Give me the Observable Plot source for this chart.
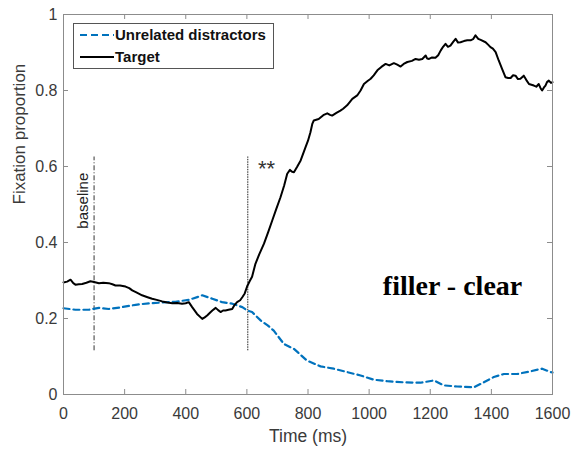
<!DOCTYPE html>
<html>
<head>
<meta charset="utf-8">
<script src="https://cdn.jsdelivr.net/npm/d3@7"></script>
<script src="https://cdn.jsdelivr.net/npm/@observablehq/plot@0.6"></script>
<style>
  html, body { margin: 0; padding: 0; background: #fff; }
  #chart { width: 573px; height: 450px; }
</style>
</head>
<body>
<div id="chart"></div>
<script>
// ---- data ----
const targetTime = [0,12,23,32,39,50,61,75,88,100,116,130,148,160,170,185,203,215,225,240,257,275,290,305,323,340,356,372,388,400,410,421,437,454,462,470,480,487,498,506,514,522,530,540,552,560,568,578,585,593,601,609,617,628,640,656,670,683,696,710,722,732,741,748,754,765,776,792,800,808,814,819,835,850,863,872,879,893,906,915,928,945,961,972,983,995,1005,1015,1027,1040,1054,1066,1081,1092,1103,1113,1125,1140,1152,1163,1174,1185,1190,1196,1206,1217,1226,1234,1242,1250,1258,1266,1275,1283,1291,1299,1310,1321,1332,1340,1348,1357,1365,1381,1390,1397,1405,1414,1424,1435,1446,1455,1463,1471,1479,1487,1495,1506,1514,1523,1531,1539,1547,1555,1561,1566,1572,1577,1582,1588,1595,1600];
const targetValue = [0.295,0.297,0.302,0.293,0.289,0.290,0.291,0.294,0.298,0.296,0.293,0.294,0.293,0.290,0.287,0.287,0.284,0.280,0.274,0.268,0.261,0.256,0.252,0.249,0.245,0.242,0.240,0.241,0.239,0.240,0.243,0.230,0.212,0.199,0.203,0.208,0.216,0.221,0.228,0.222,0.217,0.221,0.221,0.223,0.225,0.236,0.243,0.248,0.256,0.266,0.285,0.298,0.310,0.344,0.368,0.397,0.428,0.458,0.488,0.519,0.550,0.581,0.591,0.586,0.585,0.600,0.616,0.651,0.668,0.690,0.712,0.721,0.725,0.735,0.740,0.736,0.734,0.741,0.747,0.752,0.761,0.778,0.787,0.800,0.817,0.825,0.831,0.840,0.853,0.862,0.870,0.866,0.872,0.868,0.863,0.870,0.875,0.878,0.883,0.881,0.883,0.892,0.884,0.883,0.887,0.886,0.893,0.905,0.915,0.923,0.915,0.918,0.928,0.936,0.926,0.927,0.930,0.932,0.932,0.935,0.945,0.936,0.933,0.927,0.920,0.914,0.910,0.901,0.879,0.857,0.835,0.833,0.833,0.840,0.839,0.830,0.831,0.839,0.828,0.817,0.815,0.813,0.810,0.817,0.806,0.800,0.808,0.813,0.822,0.826,0.820,0.822];

const distractorTime = [0,39,83,116,148,192,236,279,323,366,410,440,454,487,519,552,585,601,617,645,668,688,721,754,775,797,841,884,928,972,1015,1059,1114,1168,1212,1244,1288,1343,1375,1408,1441,1485,1528,1566,1594,1600];
const distractorValue = [0.227,0.223,0.223,0.228,0.225,0.230,0.236,0.240,0.242,0.244,0.249,0.257,0.261,0.252,0.243,0.239,0.230,0.221,0.217,0.195,0.182,0.168,0.133,0.120,0.105,0.089,0.074,0.068,0.059,0.050,0.039,0.035,0.032,0.031,0.037,0.024,0.021,0.019,0.032,0.046,0.054,0.054,0.061,0.068,0.059,0.058];

const seriesNames = ["Unrelated distractors", "Target"];
const seriesColors = ["#0072BD", "#000000"];

const xTicks = [0,200,400,600,800,1000,1200,1400,1600];
const xTickLabels = ["0","200","400","600","800","1000","1200","1400","1600"];
const yTicks = [0,0.2,0.4,0.6,0.8,1];
const yTickLabels = ["0","0.2","0.4","0.6","0.8","1"];

const markerTimes = [100, 603];
const markerLow = 0.115;
const markerHigh = 0.625;

const xLabel = "Time (ms)";
const yLabel = "Fixation proportion";
const baselineNote = {t: 65, v: 0.51, text: "baseline"};
const starNote = {t: 636, v: 0.574, text: "**"};
const conditionNote = {t: 1273, v: 0.263, text: "filler - clear"};

// ---- build tables ----
const target = targetTime.map((t, i) => ({t, v: targetValue[i]}));
const distractor = distractorTime.map((t, i) => ({t, v: distractorValue[i]}));

const W = 573, H = 450, mL = 63, mR = 21, mT = 14, mB = 56;
const innerW = W - mL - mR, innerH = H - mT - mB;
const tickLen = 5;
const axisGrey = "#8c8c8c";
const textGrey = "#3a3a3a";
const sans = "'Liberation Sans', Arial, sans-serif";

const chart = Plot.plot({
  width: W, height: H,
  marginLeft: mL, marginRight: mR, marginTop: mT, marginBottom: mB,
  style: {fontFamily: sans, background: "#fff", overflow: "visible"},
  x: {domain: [0, 1600], label: null},
  y: {domain: [0, 1], label: null},
  marks: [
    // inward ticks on all four sides
    Plot.ruleX(xTicks, {x: d => d, insetTop: innerH - tickLen, stroke: axisGrey}),
    Plot.ruleX(xTicks, {x: d => d, insetBottom: innerH - tickLen, stroke: axisGrey}),
    Plot.ruleY(yTicks, {y: d => d, insetRight: innerW - tickLen, stroke: axisGrey}),
    Plot.ruleY(yTicks, {y: d => d, insetLeft: innerW - tickLen, stroke: axisGrey}),
    Plot.axisX(xTicks, {tickSize: 0, tickPadding: 13, fontSize: 16, fill: textGrey, label: null,
      tickFormat: d => xTickLabels[xTicks.indexOf(d)]}),
    Plot.axisY(yTicks, {tickSize: 0, tickPadding: 6, fontSize: 16, fill: textGrey, label: null,
      tickFormat: d => yTickLabels[yTicks.indexOf(d)]}),
    // axis titles
    Plot.text([xLabel], {frameAnchor: "bottom", dy: 47, lineAnchor: "bottom", fontSize: 17.5, fill: textGrey}),
    Plot.text([yLabel], {frameAnchor: "left", dx: -44, rotate: -90, lineAnchor: "middle", fontSize: 17, fill: textGrey}),
    // vertical markers
    Plot.ruleX([markerTimes[0]], {x: d => d, y1: markerLow, y2: markerHigh, stroke: "#333", strokeWidth: 1, strokeDasharray: "5,2,1,2"}),
    Plot.ruleX([markerTimes[1]], {x: d => d, y1: markerLow, y2: markerHigh, stroke: "#222", strokeWidth: 1, strokeDasharray: "1.5,1"}),
    // series
    Plot.line(distractor, {x: "t", y: "v", stroke: seriesColors[0], strokeWidth: 2.2, strokeDasharray: "6,4"}),
    Plot.line(target, {x: "t", y: "v", stroke: seriesColors[1], strokeWidth: 2}),
    // annotations
    Plot.text([baselineNote], {x: "t", y: "v", text: "text", rotate: -90, fontSize: 15, fill: "#222", lineAnchor: "middle"}),
    Plot.text([starNote], {x: "t", y: "v", text: "text", fontSize: 22, fill: "#333", textAnchor: "start", lineAnchor: "bottom", style: {letterSpacing: "6px"}}),
    Plot.text([conditionNote], {x: "t", y: "v", text: "text", fontSize: 28, fontWeight: "bold", fill: "#000", lineAnchor: "bottom", fontFamily: "'Liberation Serif', 'Times New Roman', serif"}),
    Plot.frame({stroke: axisGrey, strokeWidth: 1})
  ]
});

document.getElementById("chart").appendChild(chart);

// ---- legend inside plot area (top-left) ----
const svg = d3.select(chart);
const lg = svg.append("g").attr("transform", "translate(73,23)");
lg.append("rect").attr("x", 0.5).attr("y", 0.5).attr("width", 200).attr("height", 45)
  .attr("fill", "#fff").attr("stroke", "#555").attr("stroke-width", 1);
seriesNames.forEach((name, i) => {
  const cy = 12 + i * 22;
  lg.append("line").attr("x1", 7).attr("x2", 41).attr("y1", cy).attr("y2", cy)
    .attr("stroke", seriesColors[i]).attr("stroke-width", 2)
    .attr("stroke-dasharray", i === 0 ? "7,4" : null);
  lg.append("text").attr("x", 42).attr("y", cy).attr("dy", "0.35em")
    .attr("text-anchor", "start")
    .attr("font-family", sans).attr("font-size", 15).attr("font-weight", "bold")
    .attr("fill", "#111").text(name);
});
</script>
</body>
</html>
